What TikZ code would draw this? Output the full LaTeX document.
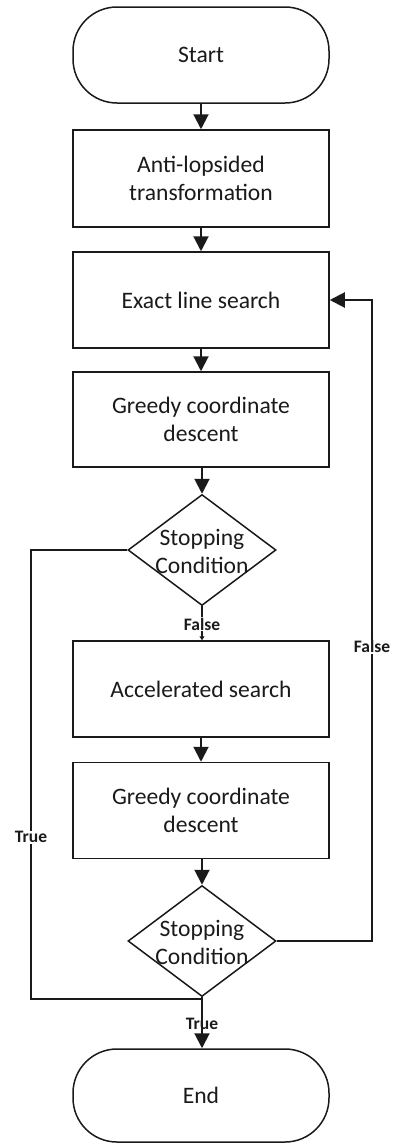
\documentclass[tikz,border=0pt]{standalone}
\usepackage{fontspec}
\setmainfont{Carlito}
\usetikzlibrary{arrows.meta,shapes.geometric,calc}
\definecolor{ink}{HTML}{1A1A1A}
\begin{document}
\begin{tikzpicture}[x=1pt,y=-1pt,
  box/.style={draw=ink,line width=1.5pt,rectangle,minimum width=256pt,minimum height=96pt,inner sep=0pt,align=center,
    font=\fontsize{23.6}{28}\selectfont,text=ink},
  term/.style={box,rounded corners=44pt},
  dia/.style={draw=ink,line width=1.5pt,diamond,minimum width=148pt,minimum height=111pt,inner sep=0pt},
  diatext/.style={align=center,font=\fontsize{23.6}{28}\selectfont,text=ink,inner sep=0pt},
  conn/.style={draw=ink,line width=2pt},
  arr/.style={conn,-{Triangle[width=15pt,length=15pt]}},
  smallarr/.style={conn,-{Triangle[width=5pt,length=4pt]}},
  lab/.style={font=\fontsize{17.5}{20}\selectfont\bfseries,text=ink,inner sep=1pt},
  labw/.style={lab,fill=white}
]
\useasboundingbox (0,0) rectangle (395,1144);
\node[term,minimum height=96pt] (start) at (201,55) {Start};
\node[box,minimum height=97pt] (anti) at (201,178.5) {Anti-lopsided\\transformation};
\node[box] (exact) at (201,300) {Exact line search};
\node[box,minimum height=95pt] (greedy1) at (201,419.5) {Greedy coordinate\\descent};
\node[dia] (d1) at (202,550) {};
\node[diatext] at (202,551) {Stopping\\Condition};
\node[box] (accel) at (201,689) {Accelerated search};
\node[box] (greedy2) at (201,810.5) {Greedy coordinate\\descent};
\node[dia] (d2) at (202,941) {};
\node[diatext] at (202,942) {Stopping\\Condition};
\node[term,minimum height=93pt] (end) at (201,1095.5) {End};

\coordinate (tl) at (31,550);
\coordinate (bl) at (31,999);
\coordinate (bm) at (202,999);
\coordinate (rr) at (372,941);
\coordinate (rt) at (372,300);

\draw[arr] (start) -- (anti);
\draw[arr] (anti) -- (exact);
\draw[arr] (exact) -- (greedy1);
\draw[arr] (greedy1.south -| d1.north) -- (d1.north);
\draw[smallarr] (d1.south) -- (d1.south |- accel.north) node[labw,pos=0.52] {False};
\draw[arr] (accel) -- (greedy2);
\draw[arr] (greedy2.south -| d2.north) -- (d2.north);
\draw[conn] (d1.west) -- (tl) -- (bl) node[labw,pos=0.64] {True} -- (bm);
\draw[arr] (d2.east) -- (rr) -- (rt) node[labw,pos=0.459] {False} -- (exact.east);
\draw[arr] (d2.south) -- (d2.south |- end.north) node[lab,pos=0.52] {True};
\end{tikzpicture}
\end{document}
